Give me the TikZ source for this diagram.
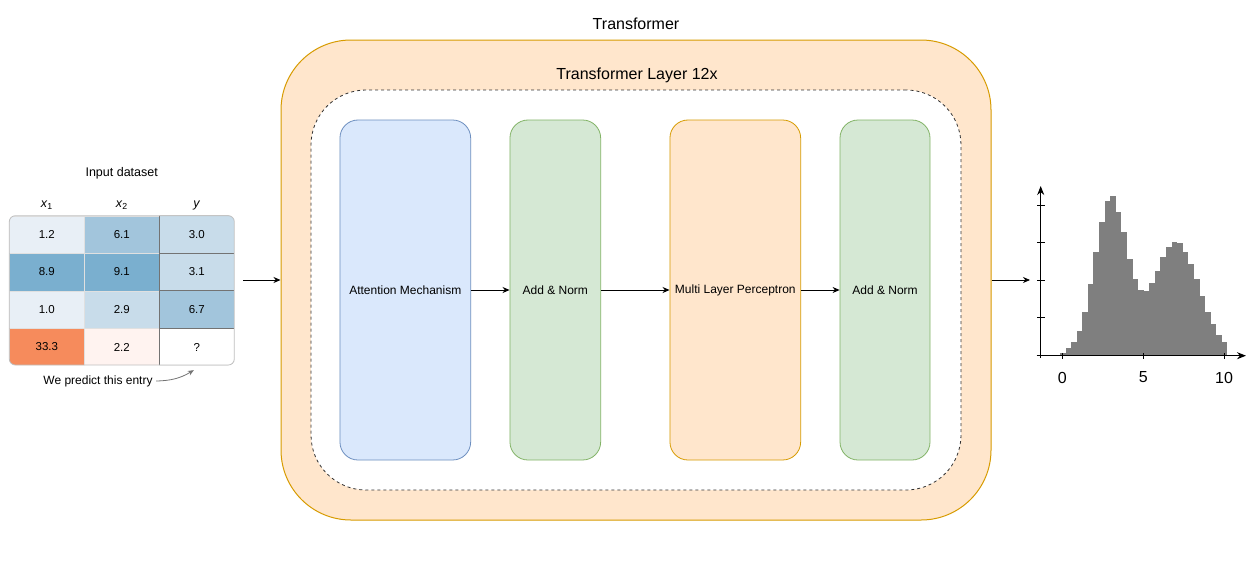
\documentclass[tikz,border=0pt]{standalone}
\usepackage{fontspec}
\setmainfont{Liberation Sans}
\usetikzlibrary{arrows.meta}
\definecolor{attnF}{HTML}{DAE8FC}
\definecolor{attnD}{HTML}{6C8EBF}
\definecolor{normF}{HTML}{D5E8D4}
\definecolor{normD}{HTML}{82B366}
\definecolor{mlpF}{HTML}{FFE6CC}
\definecolor{mlpD}{HTML}{D79B00}
\definecolor{histC}{HTML}{7F7F7F}
\definecolor{cA}{HTML}{E8EFF6}
\definecolor{cB}{HTML}{C8DCEA}
\definecolor{cC}{HTML}{A2C5DC}
\definecolor{cD}{HTML}{7AAFCF}
\definecolor{cE}{HTML}{F68B5C}
\definecolor{cF}{HTML}{FFF3F0}
\begin{document}
\begin{tikzpicture}[x=1pt,y=-1pt,>={Stealth[length=7pt,width=6pt]},
  block/.style={shape=rectangle,rounded corners=18pt,line width=0.8pt,minimum height=340pt,font=\fontsize{12pt}{14pt}\selectfont},
  attn/.style={block,fill=attnF,draw=attnD},
  norm/.style={block,fill=normF,draw=normD},
  mlp/.style={block,fill=mlpF,draw=mlpD},
  cell/.style={shape=rectangle,minimum width=75pt,minimum height=37.5pt,inner sep=0pt,draw=black!12,font=\fontsize{11.5pt}{13pt}\selectfont},
  cellY/.style={cell,draw=black!55,line width=0.8pt},
  lbl/.style={font=\fontsize{12.5pt}{14pt}\selectfont}]
\useasboundingbox (0,0) rectangle (1258,560);
\def\dx{75};
\def\dy{37.5};
\def\xa{46.8};
\def\ya{234.5};
\def\bw{5.58};

% input dataset
\begin{scope}
\clip[rounded corners=6pt] (9.3,215.7) rectangle (234.3,365);
\node[cell,fill=cA] (c11) at (\xa,\ya) {1.2};
\node[cell,fill=cC] (c12) at (\xa+\dx,\ya) {6.1};
\node[cell,fill=cD] (c21) at (\xa,\ya+\dy) {8.9};
\node[cell,fill=cD] (c22) at (\xa+\dx,\ya+\dy) {9.1};
\node[cell,fill=cA] (c31) at (\xa,\ya+2*\dy) {1.0};
\node[cell,fill=cB] (c32) at (\xa+\dx,\ya+2*\dy) {2.9};
\node[cell,fill=cE] (c41) at (\xa,\ya+3*\dy) {33.3};
\node[cell,fill=cF] (c42) at (\xa+\dx,\ya+3*\dy) {2.2};
\node[cellY,fill=cB] (c13) at (\xa+2*\dx,\ya) {3.0};
\node[cellY,fill=cB] (c23) at (\xa+2*\dx,\ya+\dy) {3.1};
\node[cellY,fill=cC] (c33) at (\xa+2*\dx,\ya+2*\dy) {6.7};
\node[cellY,fill=white] (c43) at (\xa+2*\dx,\ya+3*\dy) {?};
\end{scope}
\draw[black!25,line width=0.8pt,rounded corners=6pt] (9.3,215.7) rectangle (234.3,365);

\node[lbl] (title) at (121.7,173.3) {Input dataset};
\node[lbl] (h1) at (\xa,205) {\textit{x}\textsubscript{1}};
\node[lbl] (h2) at (\xa+\dx,205) {\textit{x}\textsubscript{2}};
\node[lbl] (h3) at (\xa+2*\dx,205) {\textit{y}};
\node[font=\fontsize{12pt}{14pt}\selectfont] (pred) at (98,381) {We predict this entry};
\draw[->,black!55,line width=0.8pt,>={Stealth[length=6pt,width=5pt]}] (pred.east) to[bend right=15] ([xshift=-3pt,yshift=-4pt]c43.south);

% transformer
\node[shape=rectangle,rounded corners=70pt,fill=mlpF,draw=mlpD,line width=1pt,minimum width=710pt,minimum height=480pt] (outer) at (636,280) {};
\node[shape=rectangle,rounded corners=55pt,fill=white,draw=black!80,dash pattern=on 3pt off 3pt,line width=0.8pt,minimum width=650pt,minimum height=400pt] (inner) at (636,290) {};
\node[font=\fontsize{16pt}{18pt}\selectfont] (tT) at (636,24) {Transformer};
\node[font=\fontsize{16pt}{18pt}\selectfont] (tL) at (637,75) {Transformer Layer 12x};

\node[attn,minimum width=130.7pt] (att) at (405.3,290) {Attention Mechanism};
\node[norm,minimum width=90.7pt] (an1) at (555.3,290) {Add \& Norm};
\node[mlp,minimum width=130.7pt] (mlp) at (735.3,290) {Multi Layer Perceptron};
\node[norm,minimum width=90pt] (an2) at (885,290) {Add \& Norm};
\draw[->,line width=0.8pt] (att) -- (an1);
\draw[->,line width=0.8pt] (an1) -- (mlp);
\draw[->,line width=0.8pt] (mlp) -- (an2);

\coordinate (in) at (243,280);
\coordinate (out) at (1030,280);
\draw[->,line width=0.8pt] (in) -- (outer.west);
\draw[->,line width=0.8pt] (outer.east) -- (out);

% histogram
\foreach \h [count=\i from 0] in {2.3,7.3,13.3,25,44,71.3,104,134,155,159.7,144,124,96.7,76.7,65.7,64.7,73,85,98.3,108.3,114,112.3,104,91.7,76.7,59.7,44,31.3,20.7,13.3}
  \fill[histC] (1060+\i*\bw,355.7) rectangle ++(\bw,-\h);
\coordinate (o) at (1040.7,355.7);
\draw[-{Stealth[length=9pt,width=7pt]},line width=1.3pt] (1040.7,358) -- (1040.7,186);
\draw[-{Stealth[length=9pt,width=7pt]},line width=1.3pt] (1036.7,355.7) -- (1246,355.7);
\foreach \y in {205,242.7,280,317.7}
  \draw[line width=1pt] (1037,\y) -- (1044.5,\y);
\foreach \x/\t in {1062.3/0,1143.3/5,1224/10} {
  \draw[line width=1pt] (\x,353) -- (\x,359);
  \node[font=\fontsize{16pt}{18pt}\selectfont] at (\x,377.5) {\t};
}
\end{tikzpicture}
\end{document}
